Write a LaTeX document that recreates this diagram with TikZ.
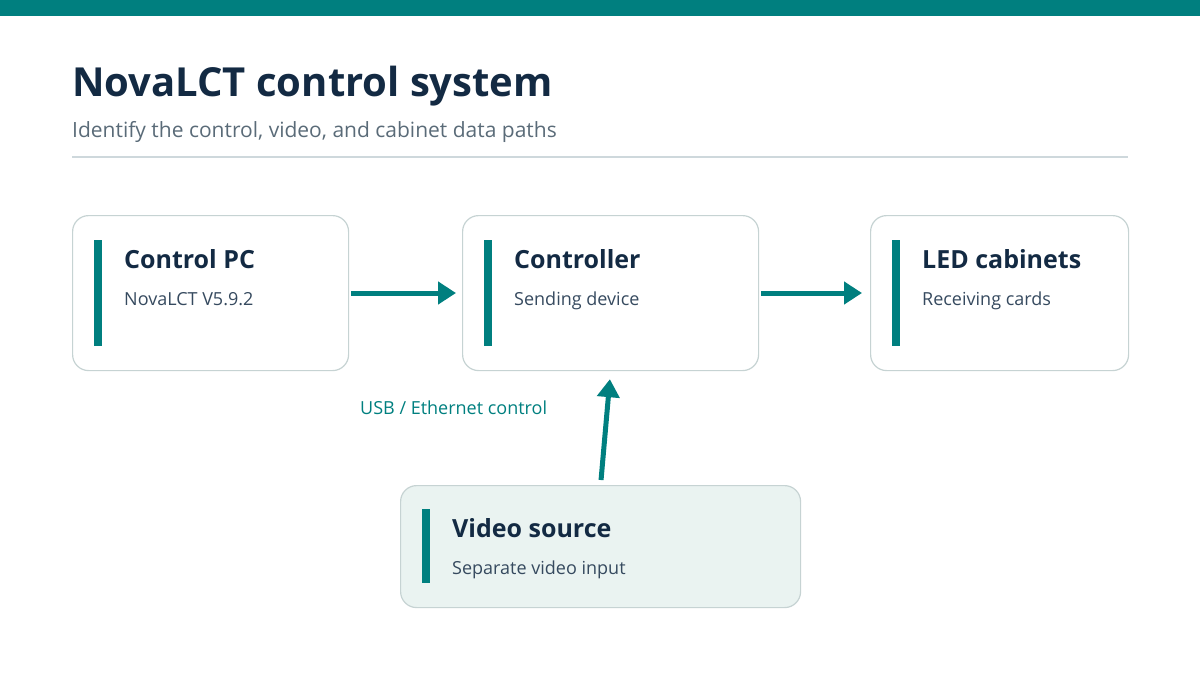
\documentclass[tikz,border=0pt]{standalone}
\usepackage{fontspec}
\setmainfont{Open Sans}
\usetikzlibrary{arrows.meta,positioning}
\definecolor{teal0}{HTML}{007F7F}
\definecolor{navy}{HTML}{132A43}
\definecolor{greytx}{HTML}{5A6B78}
\definecolor{rulec}{HTML}{CED8DC}
\definecolor{boxline}{HTML}{C6D3D3}
\definecolor{vidfill}{HTML}{EAF3F1}
\tikzset{
    boxsty/.style={draw=boxline,line width=1.2pt,rounded corners=16pt,fill=white,anchor=north west},
    barsty/.style={fill=teal0,draw=none},
    headsty/.style={anchor=base west,font=\fontsize{25}{30}\selectfont\bfseries,text=navy,inner sep=0pt},
    substy/.style={anchor=base west,font=\fontsize{18}{22}\selectfont,text=navy!85,inner sep=0pt},
    flowsty/.style={draw=teal0,line width=5pt,-{Triangle[length=18pt,width=22pt]}},
}
\begin{document}
\begin{tikzpicture}[x=1pt,y=-1pt]
  \useasboundingbox (0,0) rectangle (1200,675);
  \fill[teal0] (0,0) rectangle (1200,16);
  \node[anchor=base west,inner sep=0pt,font=\fontsize{40}{48}\selectfont\bfseries,text=navy] (title) at (72,96) {NovaLCT control system};
  \node[anchor=base west,inner sep=0pt,font=\fontsize{21}{26}\selectfont,text=greytx] (subtitle) at (72,137) {Identify the control, video, and cabinet data paths};
  \draw[rulec,line width=1.5pt] (72,157) -- (1128,157);

  % boxes
  \node[boxsty,minimum width=276pt,minimum height=155pt] (pc) at (72,215) {};
  \node[boxsty,minimum width=296pt,minimum height=155pt] (ctl) at (462,215) {};
  \node[boxsty,minimum width=258pt,minimum height=155pt] (led) at (870,215) {};
  \node[boxsty,fill=vidfill,minimum width=400pt,minimum height=122pt] (vid) at (400,485) {};

  % accent bars
  \fill[barsty] (94,240) rectangle (102,346);
  \fill[barsty] (484,240) rectangle (492,346);
  \fill[barsty] (892,240) rectangle (900,346);
  \fill[barsty] (422,509) rectangle (430,583);

  % texts
  \node[headsty] (pch) at (124,268) {Control PC};
  \node[substy] (pcs) at (124,305) {NovaLCT V5.9.2};
  \node[headsty] (ctlh) at (514,268) {Controller};
  \node[substy] (ctls) at (514,305) {Sending device};
  \node[headsty] (ledh) at (922,268) {LED cabinets};
  \node[substy] (leds) at (922,305) {Receiving cards};
  \node[headsty] (vidh) at (452,537) {Video source};
  \node[substy] (vids) at (452,574) {Separate video input};

  % connectors
  \draw[flowsty,shorten <=2pt,shorten >=6pt] (pc.east |- 0,293) -- (ctl.west |- 0,293);
  \draw[flowsty,shorten <=2pt,shorten >=8pt] (ctl.east |- 0,293) -- (led.west |- 0,293);
  \draw[flowsty,shorten <=5pt,shorten >=8pt] (vid.north) -- (ctl.south);
  \node[anchor=base west,inner sep=0pt,font=\fontsize{18}{22}\selectfont,text=teal0] (usb) at (360,414) {USB / Ethernet control};
\end{tikzpicture}
\end{document}
